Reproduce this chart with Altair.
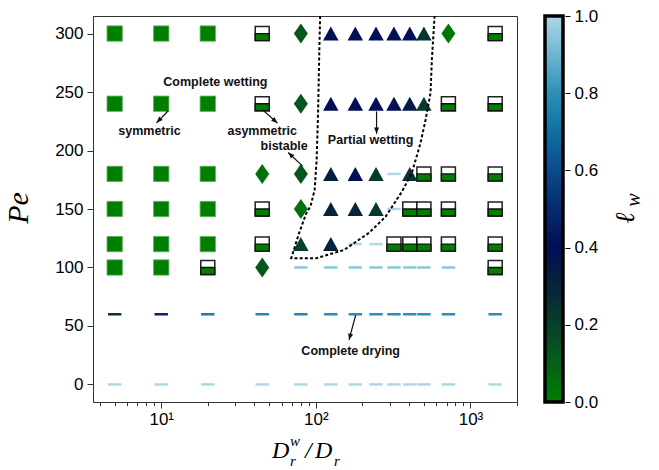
import math
import altair as alt
import pandas as pd

# ---------------- data ----------------
de_ratio = [5, 10, 20, 45, 80, 125, 180, 245, 320, 405, 500, 720, 1445]
pe_rows = [300, 240, 180, 150, 120, 100, 60, 0]
# S = full square, H = half-filled square, D = thin diamond, T = triangle, - = dash
row_kinds = [
    "SSSHDTTTTTTDH",
    "SSSHDTTTTTTHH",
    "SSSDDTTT-THHH",
    "SSSHDTTT-HHHH",
    "SSSHTT--HHHHH",
    "SSHD--------H",
    "-------------",
    "-------------",
]
row_lw = [
    [0, 0, 0, 0, 0.13, 0.4, 0.4, 0.4, 0.4, 0.4, 0.25, 0.03, 0],
    [0, 0, 0, 0, 0.13, 0.4, 0.4, 0.4, 0.4, 0.35, 0.22, 0, 0],
    [0, 0, 0, 0.05, 0.13, 0.33, 0.4, 0.22, 1.0, 0.25, 0, 0, 0],
    [0, 0, 0, 0, 0.05, 0.3, 0.3, 0.23, 1.0, 0, 0, 0, 0],
    [0, 0, 0, 0, 0.2, 0.32, 1.0, 1.0, 0, 0, 0, 0, 0],
    [0, 0, 0, 0.13, 0.95, 0.95, 0.95, 0.95, 0.95, 0.95, 0.95, 0.95, 0],
    [0.22, 0.5, 0.74, 0.78, 0.78, 0.8, 0.8, 0.8, 0.8, 0.8, 0.8, 0.8, 0.8],
    [1.0] * 13,
]

boundary_de = [106.6, 105.0, 103.5, 101.2, 98.2, 92.6, 86.2, 78.0, 71.4, 69.3,
               100.0, 152.3, 220.8, 282.9, 360.5, 418.0, 475.8, 512.6, 552.0, 562.8, 586.0]
boundary_pe = [315, 277.6, 234.8, 192.0, 166.3, 152.9, 145.4, 129.6, 113.3, 108.0,
               107.8, 115.0, 129.6, 143.5, 164.9, 180.9, 206.6, 226.3, 249.4, 277.6, 315]

label_text = ["Complete wetting", "symmetric", "asymmetric", "bistable", "Partial wetting", "Complete drying"]
label_de = [22.4, 8.4, 45.0, 62.4, 226.0, 168.0]
label_pe = [258.2, 216.3, 216.3, 204.0, 208.6, 28.7]

arrow_de1 = [11.1, 45.2, 81.9, 247.0, 181.0]
arrow_pe1 = [234.0, 234.8, 186.9, 233.4, 59.4]
arrow_de2 = [9.33, 56.5, 66.2, 247.0, 164.0]
arrow_pe2 = [223.7, 223.4, 198.3, 214.3, 38.1]

cmap_stops = [0.0, 0.1, 0.2, 0.3, 0.4, 0.5, 0.6, 0.7, 0.8, 0.9, 1.0]
cmap_colors = ["#007f00", "#046018", "#07402a", "#06243a", "#020e55", "#062a70",
               "#0a4b8b", "#0f6fa3", "#2b90b9", "#6cb6cf", "#add8e6"]
cbar_ticks = [0.0, 0.2, 0.4, 0.6, 0.8, 1.0]
y_ticks = [0, 50, 100, 150, 200, 250, 300]
x_major = [10, 100, 1000]
x_minor = [4, 5, 6, 7, 8, 9, 20, 30, 40, 50, 60, 70, 80, 90,
           200, 300, 400, 500, 600, 700, 800, 900, 2000]

# ---------------- layout constants ----------------
W, H = 424, 386
X_DOMAIN = [3.62, 2000]
Y_DOMAIN = [-15, 315]

records = []
for pe, kinds, lws in zip(pe_rows, row_kinds, row_lw):
    for de, k, lw in zip(de_ratio, kinds, lws):
        records.append({"de": de, "pe": pe, "kind": k, "lw": lw})
df = pd.DataFrame(records)

line_df = pd.DataFrame({"de": boundary_de, "pe": boundary_pe, "o": list(range(len(boundary_de)))})
lab_df = pd.DataFrame({"de": label_de, "pe": label_pe, "t": label_text})


def px(v):
    a, b = math.log10(X_DOMAIN[0]), math.log10(X_DOMAIN[1])
    return (math.log10(v) - a) / (b - a) * W


def py(v):
    return (Y_DOMAIN[1] - v) / (Y_DOMAIN[1] - Y_DOMAIN[0]) * H


angles = []
for x1, y1, x2, y2 in zip(arrow_de1, arrow_pe1, arrow_de2, arrow_pe2):
    dx = px(x2) - px(x1)
    dy = py(y2) - py(y1)
    ang = math.degrees(math.atan2(dx, -dy)) % 360
    angles.append(ang)
arr_df = pd.DataFrame({"de": arrow_de1, "pe": arrow_pe1, "de2": arrow_de2, "pe2": arrow_pe2})
head_df = pd.DataFrame({"de": arrow_de2, "pe": arrow_pe2, "ang": angles})

x_scale = alt.Scale(type="log", domain=X_DOMAIN, nice=False)
y_scale = alt.Scale(domain=Y_DOMAIN, nice=False, zero=False)
color_scale = alt.Scale(domain=cmap_stops, range=cmap_colors, interpolate="rgb")

x_axis = alt.Axis(
    values=sorted(x_major + x_minor),
    labelExpr="datum.value == 10 ? '10¹' : datum.value == 100 ? '10²' : datum.value == 1000 ? '10³' : ''",
    tickSize={"condition": {"test": "datum.value == 10 || datum.value == 100 || datum.value == 1000", "value": 6},
              "value": 3.5},
    labelOverlap=False, grid=False, title=None, labelFontSize=17, labelPadding=3,
    domainColor="#333", tickColor="#333", labelColor="black",
)
y_axis = alt.Axis(values=y_ticks, tickSize=6, labelFontSize=17, labelPadding=4, grid=False,
                  title=None, domainColor="#333", tickColor="#333", labelColor="black")

X = alt.X("de:Q", scale=x_scale, axis=x_axis)
Y = alt.Y("pe:Q", scale=y_scale, axis=y_axis)

base = alt.Chart(df)

TRI = "M0,-0.9L1,0.9L-1,0.9Z"
DIA = "M0,-1L0.7,0L0,1L-0.7,0Z"
DASH = "M-1,0L1,0"
HALF = "M-1,0L1,0L1,1L-1,1Z"

squares = base.transform_filter("datum.kind == 'S'").mark_point(
    shape="square", filled=True, size=235, opacity=1, stroke="#5fae5f", strokeWidth=0.8
).encode(x=X, y=Y, fill=alt.Fill("lw:Q", scale=color_scale, legend=None))

half_bg = base.transform_filter("datum.kind == 'H'").mark_point(
    shape="square", filled=True, fill="white", size=196, opacity=1, stroke="#222", strokeWidth=1.5
).encode(x=X, y=Y)

half_fg = base.transform_filter("datum.kind == 'H'").mark_point(
    shape=HALF, filled=True, size=196, opacity=1, stroke="#111", strokeWidth=1.3
).encode(x=X, y=Y, fill=alt.Fill("lw:Q", scale=color_scale, legend=None))

tris = base.transform_filter("datum.kind == 'T'").mark_point(
    shape=TRI, filled=True, size=240, opacity=1
).encode(x=X, y=Y, fill=alt.Fill("lw:Q", scale=color_scale, legend=None))

dias = base.transform_filter("datum.kind == 'D'").mark_point(
    shape=DIA, filled=True, size=400, opacity=1
).encode(x=X, y=Y, fill=alt.Fill("lw:Q", scale=color_scale, legend=None))

dashes = base.transform_filter("datum.kind == '-'").mark_point(
    shape=DASH, filled=False, size=180, opacity=1, strokeWidth=2.5
).encode(x=X, y=Y, stroke=alt.Stroke("lw:Q", scale=color_scale, legend=None))

boundary = alt.Chart(line_df).mark_line(
    color="black", strokeWidth=2, strokeDash=[3, 2.2]
).encode(x=X, y=Y, order="o:Q")

labels = alt.Chart(lab_df).mark_text(
    font="Liberation Sans", fontWeight="bold", fontSize=12.5, color="#111", align="center", baseline="middle"
).encode(x=X, y=Y, text="t:N")

arrow_lines = alt.Chart(arr_df).mark_rule(color="#111", strokeWidth=1.2).encode(
    x=X, y=Y, x2="de2:Q", y2="pe2:Q")

arrow_heads = alt.Chart(head_df).mark_point(
    shape="M0,0L0.6,1.5L-0.6,1.5Z", filled=True, color="#111", size=70, opacity=1
).encode(x=X, y=Y, angle=alt.Angle("ang:Q", scale=None))

one = pd.DataFrame({"k": [0]})
serif = "Liberation Serif"


def txt(s, x, y, size, angle=0, align="left"):
    return alt.Chart(one).mark_text(
        text=s, font=serif, fontStyle="italic", fontSize=size, color="black",
        align=align, baseline="alphabetic", angle=angle
    ).encode(x=alt.value(x), y=alt.value(y))


x_title = [
    txt("D", 179, 442, 24),
    txt("w", 197, 430, 15),
    txt("r", 197, 450, 15),
    txt("/", 212, 442, 24),
    txt("D", 222, 442, 24),
    txt("r", 241, 450, 15),
]
y_title = txt("Pe", -65, 192, 30, angle=270, align="center")
cb_title = [txt("ℓ", 541, 202, 27, angle=270, align="center"),
            txt("w", 547, 184, 20, angle=270, align="center")]

main = alt.layer(squares, half_bg, half_fg, tris, dias, dashes, boundary,
                 arrow_lines, arrow_heads, labels, *x_title, y_title, *cb_title)

gradient = alt.Gradient(
    gradient="linear", x1=0, x2=0, y1=1, y2=0,
    stops=[alt.GradientStop(offset=o, color=c) for o, c in zip(cmap_stops, cmap_colors)],
)
cbar_df = pd.DataFrame({"lo": [cbar_ticks[0]], "hi": [cbar_ticks[-1]]})
cbar = alt.Chart(cbar_df).mark_rect(fill=gradient, stroke="black", strokeWidth=3.5).encode(
    x=alt.value(452), x2=alt.value(470),
    y=alt.Y("lo:Q", scale=alt.Scale(domain=[0, 1], nice=False, zero=False),
            axis=alt.Axis(orient="right", offset=48, values=cbar_ticks, format=".1f", domain=False,
                          tickSize=5, labelFontSize=17, labelPadding=4, title=None, grid=False,
                          tickColor="black", labelColor="black")),
    y2="hi:Q",
)

chart = alt.layer(main, cbar).resolve_scale(y="independent").properties(
    width=W, height=H,
    padding={"left": 93, "top": 16, "right": 142, "bottom": 68},
    autosize=alt.AutoSizeParams(type="none"),
).configure(font="Liberation Sans").configure_view(stroke="#333", strokeWidth=1)

chart.save("out.html", embed_options={"renderer": "svg", "actions": False})
